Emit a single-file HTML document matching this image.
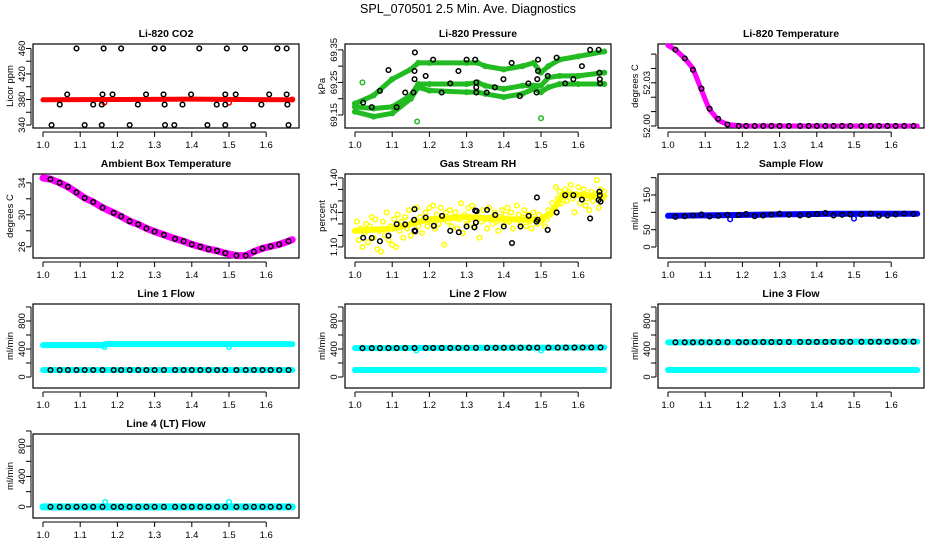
<!DOCTYPE html>
<html><head><meta charset="utf-8"><style>
html,body{margin:0;padding:0;background:#fff;}
svg{display:block;font-family:"Liberation Sans",sans-serif;}
</style></head><body>
<svg id="chart" width="936" height="540" viewBox="0 0 936 540" xmlns="http://www.w3.org/2000/svg">
<text x="468" y="13" text-anchor="middle" font-size="12.5">SPL_070501  2.5 Min. Ave. Diagnostics</text>
</svg>
<script>
// ---- data ----
const xTicks = [1.0,1.1,1.2,1.3,1.4,1.5,1.6];
const xTickLabels = ["1.0","1.1","1.2","1.3","1.4","1.5","1.6"];
const sampleX = [1.02,1.045,1.067,1.09,1.112,1.135,1.16,1.19,1.21,1.233,1.256,1.278,1.30,1.325,1.355,1.378,1.40,1.423,1.445,1.468,1.49,1.52,1.545,1.567,1.59,1.612,1.635,1.66];
const denseX = [1.0,1.67];
// CO2
const co2X = [1.09,1.163,1.21,1.30,1.323,1.42,1.494,1.543,1.63,1.655,1.065,1.16,1.187,1.277,1.324,1.398,1.49,1.518,1.608,1.655,1.045,1.135,1.158,1.255,1.327,1.375,1.467,1.49,1.587,1.657,1.023,1.112,1.158,1.233,1.328,1.353,1.442,1.49,1.565,1.66];
const co2Y = [460,460,460,460,460,460,460,460,460,460,388,388,388,388,388,388,388,388,388,388,372,372,372,372,372,372,372,372,372,372,340,340,340,340,340,340,340,340,340,340];
const co2LineX = [1.0,1.2,1.4,1.67];
const co2LineY = [379.5,380,380.5,379.5];
// Pressure
const presX = [1.022,1.045,1.067,1.09,1.112,1.135,1.161,1.16,1.16,1.157,1.19,1.21,1.233,1.256,1.278,1.30,1.323,1.326,1.326,1.326,1.354,1.376,1.399,1.421,1.443,1.466,1.488,1.49,1.492,1.492,1.518,1.542,1.565,1.587,1.61,1.632,1.655,1.657,1.658,1.659];
const presY = [69.188,69.174,69.224,69.288,69.174,69.219,69.342,69.285,69.26,69.219,69.27,69.32,69.219,69.247,69.285,69.32,69.32,69.25,69.235,69.219,69.219,69.235,69.26,69.31,69.208,69.247,69.219,69.26,69.285,69.32,69.27,69.326,69.247,69.26,69.30,69.35,69.35,69.28,69.26,69.247];
const presBandX = [1.0,1.05,1.1,1.15,1.17,1.2,1.3,1.33,1.35,1.4,1.45,1.48,1.5,1.52,1.55,1.6,1.67];
const presTop = [69.185,69.21,69.26,69.29,69.31,69.31,69.31,69.31,69.30,69.29,69.30,69.31,69.28,69.30,69.32,69.33,69.345];
const presMid = [69.175,69.17,69.175,69.21,69.245,69.245,69.245,69.25,69.24,69.23,69.24,69.24,69.24,69.265,69.27,69.27,69.28];
const presLow = [69.16,69.145,69.155,69.2,69.235,69.225,69.22,69.22,69.215,69.205,69.215,69.23,69.22,69.235,69.245,69.245,69.245];
const presOutX = [1.167,1.5,1.02];
const presOutY = [69.13,69.14,69.25];
// Li-820 temperature
const ltX = [1.0,1.02,1.045,1.067,1.09,1.11,1.135,1.16,1.2,1.67];
const ltY = [52.056,52.053,52.047,52.040,52.025,52.012,52.004,52.001,52.0,52.0];
const ltPtY = [52.053,52.047,52.039,52.026,52.012,52.005,52.001,52.0,52.0,52.0,52.0,52.0,52.0,52.0,52.0,52.0,52.0,52.0,52.0,52.0,52.0,52.0,52.0,52.0,52.0,52.0,52.0,52.0];
// Ambient
const ambX = [1.0,1.02,1.045,1.067,1.09,1.112,1.135,1.16,1.19,1.21,1.233,1.256,1.278,1.30,1.325,1.355,1.378,1.40,1.423,1.445,1.468,1.49,1.52,1.545,1.567,1.59,1.612,1.635,1.66,1.67];
const ambY = [34.6,34.46,34.0,33.5,32.8,32.1,31.6,30.9,30.25,29.8,29.2,28.8,28.3,27.9,27.5,27.0,26.7,26.3,26.0,25.7,25.5,25.2,24.9,24.9,25.4,25.8,26.05,26.3,26.7,26.9];
// RH
const rhX = [1.0,1.005,1.01,1.015,1.02,1.025,1.03,1.035,1.04,1.045,1.05,1.055,1.06,1.065,1.07,1.075,1.08,1.085,1.09,1.095,1.10,1.105,1.11,1.115,1.12,1.125,1.13,1.135,1.14,1.145,1.15,1.155,1.165,1.17,1.175,1.18,1.185,1.19,1.195,1.20,1.205,1.21,1.215,1.22,1.225,1.23,1.235,1.24,1.245,1.25,1.255,1.26,1.265,1.27,1.275,1.28,1.285,1.29,1.295,1.30,1.305,1.31,1.315,1.32,1.33,1.335,1.34,1.345,1.35,1.355,1.36,1.365,1.37,1.375,1.38,1.385,1.39,1.395,1.40,1.405,1.41,1.415,1.42,1.425,1.43,1.435,1.44,1.445,1.45,1.455,1.46,1.465,1.47,1.475,1.48,1.485,1.49,1.495,1.50,1.505,1.51,1.515,1.52,1.525,1.53,1.535,1.54,1.545,1.55,1.555,1.56,1.565,1.57,1.575,1.58,1.585,1.59,1.595,1.60,1.605,1.61,1.615,1.62,1.625,1.63,1.635,1.64,1.645,1.65,1.655,1.66,1.665,1.67];
const rhY = [1.17,1.21,1.13,1.18,1.10,1.16,1.20,1.12,1.19,1.23,1.14,1.22,1.09,1.17,1.08,1.21,1.15,1.25,1.13,1.19,1.11,1.22,1.10,1.24,1.17,1.21,1.14,1.23,1.18,1.26,1.15,1.21,1.27,1.19,1.23,1.16,1.22,1.25,1.19,1.27,1.21,1.28,1.18,1.24,1.20,1.27,1.22,1.11,1.25,1.21,1.26,1.19,1.23,1.25,1.18,1.22,1.29,1.16,1.24,1.20,1.27,1.22,1.28,1.19,1.24,1.14,1.21,1.26,1.22,1.18,1.27,1.23,1.20,1.25,1.21,1.17,1.23,1.26,1.20,1.24,1.27,1.21,1.25,1.18,1.22,1.28,1.24,1.20,1.23,1.26,1.19,1.24,1.21,1.18,1.25,1.22,1.20,1.24,1.21,1.23,1.19,1.22,1.26,1.24,1.29,1.27,1.36,1.31,1.34,1.29,1.33,1.35,1.30,1.34,1.37,1.31,1.25,1.33,1.36,1.29,1.32,1.35,1.28,1.31,1.26,1.34,1.30,1.33,1.39,1.27,1.35,1.31,1.34];
const rhTrendX = [1.0,1.1,1.2,1.3,1.4,1.5,1.53,1.56,1.67];
const rhTrendY = [1.17,1.18,1.22,1.23,1.22,1.22,1.25,1.33,1.32];
const rhPtX = [1.022,1.045,1.067,1.09,1.112,1.135,1.160,1.160,1.159,1.162,1.19,1.212,1.234,1.256,1.279,1.300,1.321,1.325,1.323,1.327,1.355,1.377,1.400,1.422,1.445,1.467,1.488,1.491,1.489,1.518,1.542,1.565,1.587,1.610,1.632,1.655,1.657,1.658,1.660];
const rhPtY = [1.140,1.139,1.125,1.149,1.199,1.198,1.171,1.264,1.218,1.168,1.228,1.192,1.235,1.170,1.164,1.189,1.185,1.206,1.258,1.256,1.261,1.239,1.189,1.117,1.189,1.235,1.210,1.218,1.315,1.174,1.250,1.325,1.325,1.306,1.224,1.304,1.340,1.325,1.297];
// Sample flow
const sfX = [1.0,1.16,1.3,1.45,1.67];
const sfY = [90,92,94,96,96];
const sfPtY = [87,89,91,94,88,90,93,92,95,89,91,93,96,93,91,92,95,98,91,93,94,94,96,90,91,94,96,95];
// Line flows
const l1HiX = [1.0,1.16,1.17,1.67];
const l1HiY = [455,455,470,470];
const l1LoY = [100,100,100,100];
const l1PtY = 100;
const l2PtY = 412;
const l2CyanLo = 100;
const l3PtY = 495;
const l3CyanLo = 100;
const l4PtY = 0;
const l4OutX = [1.167,1.5];
const l4OutY = 65;
const flowOutX = [1.165,1.5];

// ---- rendering ----
const svg = document.getElementById('chart');
const NS = 'http://www.w3.org/2000/svg';
const W = 266, H = 84;
function mk(tag, attrs, name) {
  const el = document.createElementNS(NS, tag);
  for (const k in attrs) el.setAttribute(k, attrs[k]);
  
  
  svg.appendChild(el);
  return el;
}
function panel(L, T, ymin, ymax, yTicks, yLabels, title, ylab, id) {
  const p = {
    x: v => L + 10 + (v - 1.0) * 372,
    y: v => T + H - (v - ymin) / (ymax - ymin) * H
  };
  mk('rect', {x: L, y: T, width: W, height: H, fill: 'none', stroke: '#000', 'stroke-width': 1.2}, id + '-plot-box');
  const t = mk('text', {x: L + W / 2, y: T - 7, 'text-anchor': 'middle', 'font-size': 10.5, 'font-weight': 'bold'}, id + '-title');
  t.textContent = title;
  const yl = mk('text', {x: 0, y: 0, transform: `translate(${L - 20},${T + H / 2}) rotate(-90)`, 'text-anchor': 'middle', 'font-size': 9.5}, id + '-y-axis-title');
  yl.textContent = ylab;
  const by = T + H + 4;
  mk('line', {x1: p.x(1.0), x2: p.x(1.6), y1: by, y2: by, stroke: '#000'}, id + '-x-axis-line');
  xTicks.forEach((v, i) => {
    mk('line', {x1: p.x(v), x2: p.x(v), y1: by, y2: by + 5, stroke: '#000'}, id + '-x-tick');
    const tl = mk('text', {x: p.x(v), y: by + 16, 'text-anchor': 'middle', 'font-size': 9.5}, id + '-x-tick-label');
    tl.textContent = xTickLabels[i];
  });
  const ax = L - 2;
  mk('line', {x1: ax, x2: ax, y1: p.y(yTicks[0]), y2: p.y(yTicks[yTicks.length - 1]), stroke: '#000'}, id + '-y-axis-line');
  yTicks.forEach((v, i) => {
    mk('line', {x1: ax - 5, x2: ax, y1: p.y(v), y2: p.y(v), stroke: '#000'}, id + '-y-tick');
    if (yLabels[i] !== '') {
      const tl = mk('text', {x: 0, y: 0, transform: `translate(${ax - 6},${p.y(v)}) rotate(-90)`, 'text-anchor': 'middle', 'font-size': 9.5}, id + '-y-tick-label');
      tl.textContent = yLabels[i];
    }
  });
  return p;
}
function band(p, xs, ys, color, w, name) {
  const pts = xs.map((x, i) => p.x(x) + ',' + p.y(ys[i])).join(' ');
  mk('polyline', {points: pts, fill: 'none', stroke: color, 'stroke-width': w, 'stroke-linejoin': 'round', 'stroke-linecap': 'round'}, name);
}
function dot(p, x, y, color, name, r) {
  mk('circle', {cx: p.x(x), cy: p.y(y), r: r || 2.3, fill: 'none', stroke: color, 'stroke-width': 1.5}, name);
}

// CO2
let p = panel(33, 44, 335.3, 467, [340,360,380,400,420,440,460], ['340','','380','','420','','460'], 'Li-820 CO2', 'Licor ppm', 'co2');
band(p, co2LineX, co2LineY, '#ff0000', 5, 'co2-band');
dot(p, 1.165, 375, '#ff0000', 'co2-outlier');
dot(p, 1.5, 375, '#ff0000', 'co2-outlier');
dot(p, 1.67, 380, '#ff0000', 'co2-outlier');
co2X.forEach((x, i) => dot(p, x, co2Y[i], '#000', 'co2-sample-point'));

// Pressure
p = panel(345, 44, 69.11, 69.368, [69.15,69.20,69.25,69.30,69.35], ['69.15','','69.25','','69.35'], 'Li-820 Pressure', 'kPa', 'pressure');
[presTop, presMid, presLow].forEach((arr, k) => {
  band(p, presBandX, arr, '#22bb22', 5, 'pressure-band-' + k);
  presBandX.forEach((x, i) => dot(p, x, arr[i], '#22bb22', 'pressure-band-point'));
});
presOutX.forEach((x, i) => dot(p, x, presOutY[i], '#22bb22', 'pressure-outlier'));
presX.forEach((x, i) => dot(p, x, presY[i], '#000', 'pressure-sample-point'));

// Li-820 Temperature
p = panel(658, 44, 51.9986, 52.057, [52.00,52.01,52.02,52.03,52.04,52.05], ['52.00','','','52.03','',''], 'Li-820 Temperature', 'degrees C', 'licor-temp');
band(p, ltX, ltY, '#ff00ff', 5, 'licor-temp-band');
sampleX.forEach((x, i) => dot(p, x, ltPtY[i], '#000', 'licor-temp-sample-point'));

// Ambient
p = panel(33, 174, 24.6, 35.1, [26,28,30,32,34], ['26','','30','','34'], 'Ambient Box Temperature', 'degrees C', 'ambient');
band(p, ambX, ambY, '#ff00ff', 7, 'ambient-band');
ambX.slice(1, -1).forEach((x, i) => dot(p, x, ambY[i + 1], '#000', 'ambient-sample-point'));

// RH
p = panel(345, 174, 1.052, 1.417, [1.10,1.15,1.20,1.25,1.30,1.35,1.40], ['1.10','','','1.25','','','1.40'], 'Gas Stream RH', 'percent', 'rh');
band(p, rhTrendX, rhTrendY, '#ffff00', 6, 'rh-trend');
rhX.forEach((x, i) => dot(p, x, rhY[i], '#ffff00', 'rh-point'));
rhPtX.forEach((x, i) => dot(p, x, rhPtY[i], '#000', 'rh-sample-point'));

// Sample flow
p = panel(658, 174, -31.7, 210.6, [0,50,100,150,200], ['0','50','','150',''], 'Sample Flow', 'ml/min', 'sample-flow');
band(p, sfX, sfY, '#0000ff', 6, 'sample-flow-band');
dot(p, 1.167, 80, '#0000ff', 'sample-flow-outlier');
dot(p, 1.5, 82, '#0000ff', 'sample-flow-outlier');
sampleX.forEach((x, i) => dot(p, x, sfPtY[i], '#000', 'sample-flow-sample-point'));

const flowTicks = [0,200,400,600,800,1000];
const flowLabels = ['0','','400','','800',''];
// Line 1
p = panel(33, 304, -157, 1043, flowTicks, flowLabels, 'Line 1 Flow', 'ml/min', 'line1');
band(p, l1HiX, l1HiY, '#00ffff', 6, 'line1-high-band');
band(p, denseX, l1LoY.slice(0, 2), '#00ffff', 6, 'line1-low-band');
flowOutX.forEach(x => dot(p, x, 430, '#00ffff', 'line1-outlier'));
sampleX.forEach(x => dot(p, x, l1PtY, '#000', 'line1-sample-point'));
// Line 2
p = panel(345, 304, -157, 1043, flowTicks, flowLabels, 'Line 2 Flow', 'ml/min', 'line2');
band(p, denseX, [l2PtY, l2PtY + 10], '#00ffff', 6, 'line2-high-band');
band(p, denseX, [l2CyanLo, l2CyanLo], '#00ffff', 6, 'line2-low-band');
flowOutX.forEach(x => dot(p, x, 380, '#00ffff', 'line2-outlier'));
sampleX.forEach(x => dot(p, x, l2PtY + (x - 1) * 15, '#000', 'line2-sample-point'));
// Line 3
p = panel(658, 304, -157, 1043, flowTicks, flowLabels, 'Line 3 Flow', 'ml/min', 'line3');
band(p, denseX, [l3PtY, l3PtY + 10], '#00ffff', 6, 'line3-high-band');
band(p, denseX, [l3CyanLo, l3CyanLo], '#00ffff', 6, 'line3-low-band');
sampleX.forEach(x => dot(p, x, l3PtY + (x - 1) * 15, '#000', 'line3-sample-point'));
// Line 4
p = panel(33, 434, -147, 960, flowTicks, flowLabels, 'Line 4 (LT) Flow', 'ml/min', 'line4');
band(p, denseX, [l4PtY, l4PtY], '#00ffff', 7, 'line4-band');
l4OutX.forEach(x => dot(p, x, l4OutY, '#00ffff', 'line4-outlier'));
sampleX.forEach(x => dot(p, x, l4PtY, '#000', 'line4-sample-point'));
</script>
</body></html>
